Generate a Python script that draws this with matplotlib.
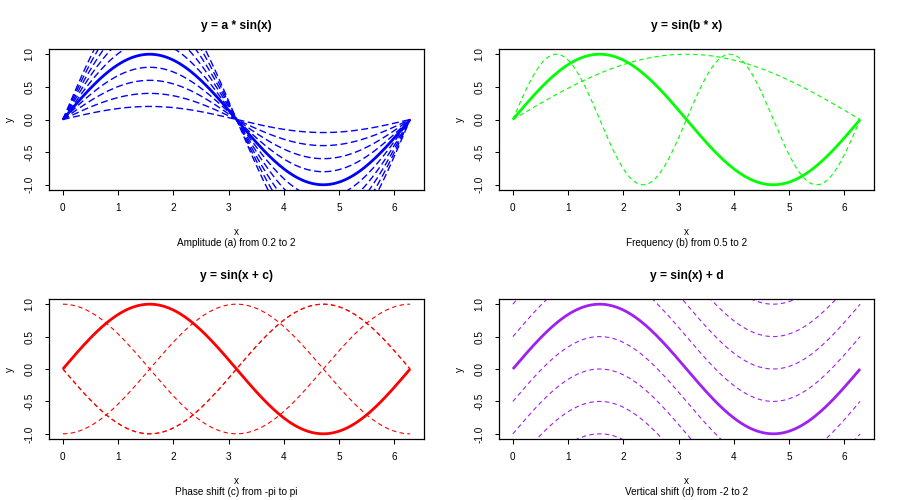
import numpy as np
import matplotlib.pyplot as plt

plt.rcParams["font.family"] = ["Liberation Sans", "DejaVu Sans"]

x = np.linspace(0, 2 * np.pi, 200)

# parameter values for each family of curves
amplitudes = [0.2, 0.4, 0.6, 0.8, 1.0, 1.2, 1.4, 1.6, 1.8, 2.0]
frequencies = [0.5, 1.0, 2.0]
phases = [-np.pi, -np.pi / 2, 0.0, np.pi / 2, np.pi]
shifts = [-2.0, -1.5, -1.0, -0.5, 0.0, 0.5, 1.0, 1.5, 2.0]

titles = ["y = a * sin(x)", "y = sin(b * x)", "y = sin(x + c)", "y = sin(x) + d"]
subtitles = ["Amplitude (a) from 0.2 to 2", "Frequency (b) from 0.5 to 2",
             "Phase shift (c) from -pi to pi", "Vertical shift (d) from -2 to 2"]
colors = ["#0000FF", "#00FF00", "#FF0000", "#A020F0"]
baseline = [1.0, 1.0, 0.0, 0.0]

curves = [
    [(a, a * np.sin(x)) for a in amplitudes],
    [(b, np.sin(b * x)) for b in frequencies],
    [(c, np.sin(x + c)) for c in phases],
    [(d, np.sin(x) + d) for d in shifts],
]

fig = plt.figure(figsize=(9, 5), dpi=100)
W, H = 900, 500
boxes = [(49, 49, 424, 190), (499, 49, 874, 190),
         (49, 299, 424, 439), (499, 299, 874, 439)]

px = 0.72  # points per pixel
for i, (l, t, r, b) in enumerate(boxes):
    ax = fig.add_axes([l / W, 1 - b / H, (r - l) / W, (b - t) / H])
    col = colors[i]
    if i == 0:
        lw, dash = 1.0, (5.0, 2.5)
    else:
        lw, dash = 0.8, (4.0, 3.0)
    for p, y in curves[i]:
        if np.isclose(p, baseline[i]):
            continue
        ax.plot(x, y, color=col, lw=lw, dashes=dash)
    for p, y in curves[i]:
        if np.isclose(p, baseline[i]):
            ax.plot(x, y, color=col, lw=2.0, solid_capstyle="butt")

    span = 2 * np.pi
    ax.set_xlim(-0.04 * span, span * 1.04)
    ax.set_ylim(-1.08, 1.08)
    ax.set_xticks(range(7))
    ax.set_yticks([-1, -0.5, 0, 0.5, 1])
    ax.set_yticklabels(["-1.0", "-0.5", "0.0", "0.5", "1.0"])
    ax.tick_params(length=4.5 * px, width=0.75, labelsize=7.2, pad=6, colors="black")
    plt.setp(ax.get_yticklabels(), rotation=90, va="center", ha="center")
    ax.tick_params(axis="y", pad=11)
    for s in ax.spines.values():
        s.set_linewidth(0.9)
        s.set_color("black")

    ax.annotate(titles[i], (0.5, 1), xycoords="axes fraction",
                xytext=(0, 23 * px), textcoords="offset points",
                ha="center", va="center", fontsize=8.64, fontweight="bold")
    ax.annotate("x", (0.5, 0), xycoords="axes fraction",
                xytext=(0, -42 * px), textcoords="offset points",
                ha="center", va="center", fontsize=7.2)
    ax.annotate(subtitles[i], (0.5, 0), xycoords="axes fraction",
                xytext=(0, -53 * px), textcoords="offset points",
                ha="center", va="center", fontsize=7.2)
    ax.annotate("y", (0, 0.5), xycoords="axes fraction",
                xytext=(-39 * px, 0), textcoords="offset points",
                ha="center", va="center", fontsize=7.2, rotation=90)

fig.savefig("out.png", dpi=100)
